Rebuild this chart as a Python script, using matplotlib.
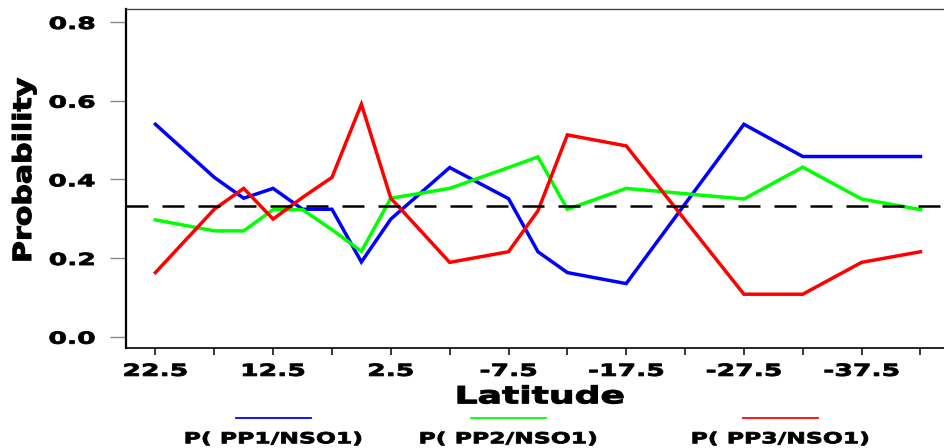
import matplotlib
matplotlib.use("Agg")
import matplotlib.pyplot as plt
from matplotlib.lines import Line2D
from matplotlib.patheffects import AbstractPathEffect
from matplotlib.transforms import Affine2D

# breedtegraden (punten waar de lijnen een knik hebben)
latitude = [22.5, 17.5, 15, 12.5, 10, 7.5, 5, 2.5, -2.5, -7.5, -10, -12.5,
            -17.5, -27.5, -32.5, -37.5, -42.5]
p_pp1 = [0.540, 0.405, 0.352, 0.377, 0.324, 0.324, 0.190, 0.299, 0.430, 0.351,
         0.216, 0.163, 0.135, 0.540, 0.458, 0.458, 0.458]
p_pp2 = [0.297, 0.269, 0.269, 0.323, 0.323, 0.272, 0.217, 0.352, 0.377, 0.430,
         0.457, 0.324, 0.377, 0.350, 0.431, 0.350, 0.323]
p_pp3 = [0.163, 0.324, 0.377, 0.299, 0.354, 0.405, 0.591, 0.352, 0.189, 0.216,
         0.320, 0.513, 0.485, 0.108, 0.108, 0.189, 0.216]

series_labels = ["P( PP1/NSO1)", "P( PP2/NSO1)", "P( PP3/NSO1)"]
series_colors = ["#0000ff", "#00ff00", "#ff0000"]

major_lat = [22.5, 12.5, 2.5, -7.5, -17.5, -27.5, -37.5]
minor_lat = [17.5, 7.5, -2.5, -12.5, -22.5, -32.5, -42.5]
y_ticks = [0.0, 0.2, 0.4, 0.6, 0.8]
chance = 1 / 3


# tekst horizontaal uitrekken en iets dikker maken (het origineel heeft een brede, zware letter)
class Stretch(AbstractPathEffect):
    def __init__(self, sx, anchor="center", stroke=0.6):
        super().__init__()
        self.sx = sx
        self.anchor = anchor
        self.stroke = stroke

    def draw_path(self, renderer, gc, tpath, affine, rgbFace=None):
        ext = tpath.get_extents()
        if self.anchor == "right":
            cx = ext.x1
        elif self.anchor == "left":
            cx = ext.x0
        else:
            cx = (ext.x0 + ext.x1) / 2
        t = Affine2D().translate(-cx, 0).scale(self.sx, 1).translate(cx, 0) + affine
        gc0 = renderer.new_gc()
        gc0.copy_properties(gc)
        gc0.set_linewidth(self.stroke)
        gc0.set_foreground(rgbFace)
        renderer.draw_path(gc0, tpath, t, rgbFace)
        gc0.restore()


plt.rcParams["font.family"] = ["DejaVu Sans"]
plt.rcParams["font.weight"] = "bold"

W, H = 944, 448
fig = plt.figure(figsize=(W / 100, H / 100), dpi=100)
ax = fig.add_axes([126 / W, (H - 348) / H, (W - 126) / W, (348 - 9) / H])

for vals, col in zip([p_pp1, p_pp2, p_pp3], series_colors):
    ax.plot(latitude, vals, color=col, lw=2.5, solid_joinstyle="miter")

ax.axhline(chance, color="black", lw=1.8, dashes=(8.8, 5.6))

ax.set_xlim(25.0, -44.5)
ax.set_ylim(-0.0287, 0.833)

ax.set_xticks(major_lat)
ax.set_xticklabels([f"{v:g}" for v in major_lat])
ax.set_xticks(minor_lat, minor=True)
ax.set_yticks(y_ticks)
ax.set_yticklabels([f"{v:.1f}" for v in y_ticks])

ax.tick_params(axis="x", which="both", direction="out", length=5, width=1.1,
               color="black", pad=5, labelsize=12)
ax.tick_params(axis="y", direction="out", length=11.5, width=1.0,
               color="#888888", pad=10.8, labelsize=12)

for tick in ax.xaxis.get_major_ticks():
    tick.label1.set_path_effects([Stretch(1.6)])
    tick.label1.set_fontweight("bold")
for tick in ax.yaxis.get_major_ticks():
    tick.label1.set_path_effects([Stretch(1.6, anchor="right")])
    tick.label1.set_fontweight("bold")

ax.spines["right"].set_visible(False)
ax.spines["left"].set_linewidth(1.6)
ax.spines["bottom"].set_linewidth(1.2)
ax.spines["top"].set_linewidth(1.0)
ax.spines["top"].set_color("#444444")

# aslabels
fig.text(540 / W, 1 - 403.3 / H, "Latitude", ha="center", va="baseline",
         fontsize=17, fontweight="bold", path_effects=[Stretch(1.53, stroke=0.8)])
fig.text(24 / W, 1 - 170 / H, "Probability", ha="center", va="center",
         rotation=90, fontsize=18, fontweight="bold",
         path_effects=[Stretch(1.2, stroke=0.8)])

# legenda onder de figuur: lijnstukje boven de tekst
legend_x = [273, 508, 780]
for cx, lab, col in zip(legend_x, series_labels, series_colors):
    fig.add_artist(Line2D([(cx - 37.5) / W, (cx + 37.5) / W],
                          [1 - 417.7 / H, 1 - 417.7 / H],
                          transform=fig.transFigure, color=col, lw=1.3))
    fig.text(cx / W, 1 - 443.3 / H, lab, ha="center", va="baseline",
             fontsize=11, fontweight="bold", path_effects=[Stretch(1.54)])

fig.savefig("out.png", dpi=100)
